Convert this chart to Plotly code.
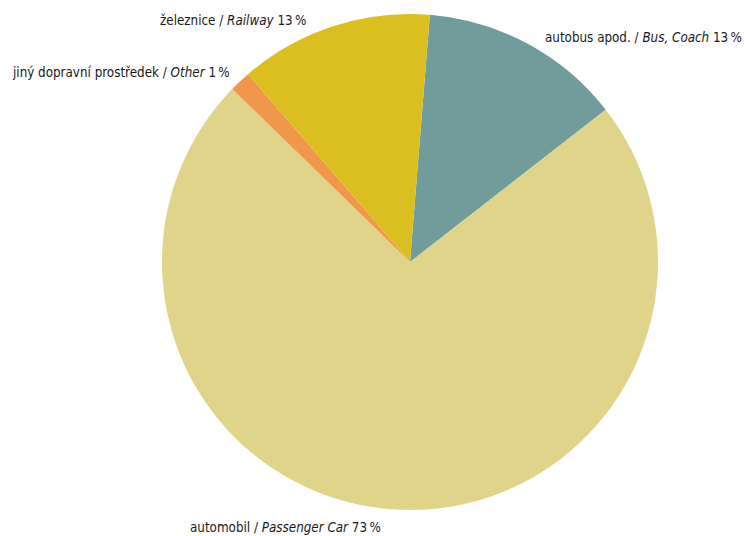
import plotly.graph_objects as go

# Modal split of passenger transport (share in %)
labels_cz = ["autobus apod.", "automobil", "jiný dopravní prostředek", "železnice"]
labels_en = ["Bus, Coach", "Passenger Car", "Other", "Railway"]
shares = [13.2, 72.8, 1.4, 12.6]
colors = ["#729C9C", "#DFD48A", "#F0974B", "#DBBF20"]

# label placement (left edge x, vertical centre y), in pixels of the 747x536 canvas
label_pos = [(543, 37), (188, 527), (10, 73), (158, 20)]

W, H = 747, 536
cx, cy, r = 410, 262, 248

fig = go.Figure(
    go.Pie(
        values=shares,
        labels=labels_en,
        marker=dict(colors=colors, line=dict(width=0)),
        sort=False,
        direction="clockwise",
        rotation=4.6,
        textinfo="none",
        hoverinfo="label+percent",
        showlegend=False,
        domain=dict(
            x=[(cx - r) / W, (cx + r) / W],
            y=[(H - cy - r) / H, (H - cy + r) / H],
        ),
    )
)

for cz, en, v, (px, py) in zip(labels_cz, labels_en, shares, label_pos):
    fig.add_annotation(
        text=f"{cz} / <i>{en}</i> {round(v)}\u2009%",
        x=px / W,
        y=1 - py / H,
        xref="paper",
        yref="paper",
        xanchor="left",
        yanchor="middle",
        showarrow=False,
        font=dict(family="Liberation Sans Narrow, DejaVu Sans Condensed, Liberation Sans, sans-serif",
                  size=13.3, color="#1a1a1a"),
    )

fig.update_layout(
    width=W,
    height=H,
    margin=dict(l=0, r=0, t=0, b=0),
    paper_bgcolor="white",
    plot_bgcolor="white",
)

fig.write_html("out.html")
